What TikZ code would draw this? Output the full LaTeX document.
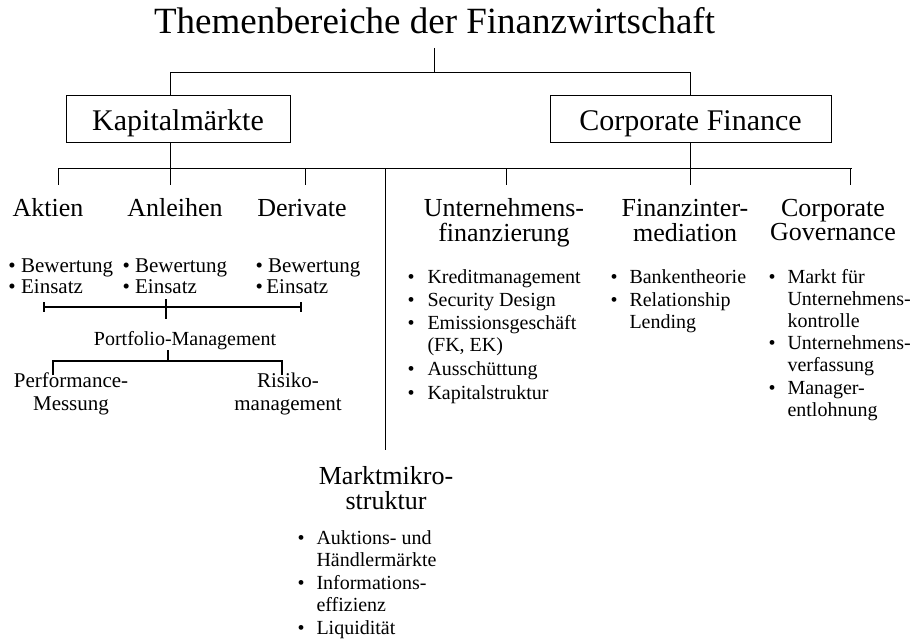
\documentclass[tikz,border=0pt]{standalone}
\usepackage{fontspec}
\setmainfont{Liberation Serif}
\begin{document}
\begin{tikzpicture}[x=1pt,y=-1pt,line width=1pt,
    every node/.style={inner sep=0pt},
    titel/.style={font=\fontsize{37}{40}\selectfont,anchor=base},
    bereich/.style={draw,font=\fontsize{30}{32}\selectfont,minimum height=47pt,text height=23pt,text depth=0pt},
    gebiet/.style={font=\fontsize{26}{24}\selectfont,anchor=base},
    unter/.style={font=\fontsize{21}{23}\selectfont,anchor=base},
    klein/.style={font=\fontsize{21}{21}\selectfont,anchor=base west},
    liste/.style={font=\fontsize{20}{22}\selectfont,anchor=base west},
    klammer/.style={line width=2.6pt}]
    \useasboundingbox (0,0) rectangle (915,639);

    \node[titel] (T) at (434.5,34) {Themenbereiche der Finanzwirtschaft};
    \node[bereich,minimum width=224pt] (KM) at (178,119.5) {Kapitalmärkte};
    \node[bereich,minimum width=281pt] (CF) at (690.5,119.5) {Corporate Finance};

    \node[gebiet] (AK) at (48,216) {Aktien};
    \node[gebiet] (AN) at (175,216) {Anleihen};
    \node[gebiet] (DE) at (302,216) {Derivate};
    \node[gebiet] (UF) at (504,216) {\begin{tabular}[t]{@{}c@{}}Unternehmens-\\finanzierung\end{tabular}};
    \node[gebiet] (FI) at (685,216) {\begin{tabular}[t]{@{}c@{}}Finanzinter-\\mediation\end{tabular}};
    \node[gebiet] (CG) at (833,216) {\begin{tabular}[t]{@{}c@{}}Corporate\\Governance\end{tabular}};
    \node[gebiet] (MM) at (386,484) {\begin{tabular}[t]{@{}c@{}}Marktmikro-\\struktur\end{tabular}};

    \node[klein] (AKL) at (8,272) {\begin{tabular}[t]{@{}l@{}}\textbullet\ Bewertung\\\textbullet\ Einsatz\end{tabular}};
    \node[klein] (ANL) at (122,272) {\begin{tabular}[t]{@{}l@{}}\textbullet\ Bewertung\\\textbullet\ Einsatz\end{tabular}};
    \node[klein] (DEL) at (255,272) {\begin{tabular}[t]{@{}l@{}}\textbullet\ Bewertung\\\textbullet\,Einsatz\end{tabular}};

    \node[liste] (UFL) at (407,283) {\begin{tabular}[t]{@{}l@{\hspace{13pt}}l@{}}
        \textbullet & Kreditmanagement\\[1pt]
        \textbullet & Security Design\\[1pt]
        \textbullet & Emissionsgeschäft\\
                    & (FK, EK)\\[2pt]
        \textbullet & Ausschüttung\\[2pt]
        \textbullet & Kapitalstruktur
    \end{tabular}};
    \node[liste] (FIL) at (610,283) {\begin{tabular}[t]{@{}l@{\hspace{12pt}}l@{}}
        \textbullet & Bankentheorie\\[1pt]
        \textbullet & Relationship\\
                    & Lending
    \end{tabular}};
    \node[liste] (CGL) at (768,283) {\begin{tabular}[t]{@{}l@{\hspace{12pt}}l@{}}
        \textbullet & Markt für\\
                    & Unternehmens-\\
                    & kontrolle\\
        \textbullet & Unternehmens-\\
                    & verfassung\\[1pt]
        \textbullet & Manager-\\
                    & entlohnung
    \end{tabular}};
    \node[liste] (MML) at (297,544) {\begin{tabular}[t]{@{}l@{\hspace{12pt}}l@{}}
        \textbullet & Auktions- und\\
                    & Händlermärkte\\[1pt]
        \textbullet & Informations-\\
                    & effizienz\\[1pt]
        \textbullet & Liquidität
    \end{tabular}};

    \node[liste,anchor=base] (PM) at (185,345) {Portfolio-Management};
    \node[unter] (PE) at (71,387) {\begin{tabular}[t]{@{}c@{}}Performance-\\Messung\end{tabular}};
    \node[unter] (RI) at (288,387) {\begin{tabular}[t]{@{}c@{}}Risiko-\\management\end{tabular}};

    \coordinate (J0) at (434.5,72.5);
    \coordinate (J1) at (58.5,168.5);
    \coordinate (J2) at (851.5,168.5);
    \coordinate (tAK) at (58.5,185);
    \coordinate (tAN) at (170.5,185);
    \coordinate (tDE) at (305.5,185);
    \coordinate (tMM) at (385.5,450);
    \coordinate (tUF) at (506.5,185);
    \coordinate (tFI) at (690.5,185);
    \coordinate (tCG) at (850.5,185);

    \draw ([yshift=-14pt]T.base) -- (J0);
    \draw (KM.north -| tAN) |- (J0) -| (CF.north);
    \draw (KM.south -| tAN) -- (tAN);
    \draw (CF.south) -- (tFI);
    \draw (J1) -- (J2);
    \foreach \t in {tAK,tDE,tMM,tUF,tCG}
        \draw (\t |- J1) -- (\t);

    \coordinate (k1) at (44,307);
    \coordinate (k2) at (301,307);
    \coordinate (k3) at (166,307);
    \coordinate (k4) at (53,361);
    \coordinate (k5) at (282,361);
    \coordinate (k6) at (168,361);

    \draw[klammer] (k1) ++(0,-5) -- ++(0,10) (k1) -- (k2) ++(0,-5) -- ++(0,10)
        (k3) ++(0,-8) -- ++(0,20);
    \draw[klammer] (k4) ++(0,14) -- (k4) -- (k5) -- ++(0,14) (k6) -- (k6 |- PM.south);
\end{tikzpicture}
\end{document}
